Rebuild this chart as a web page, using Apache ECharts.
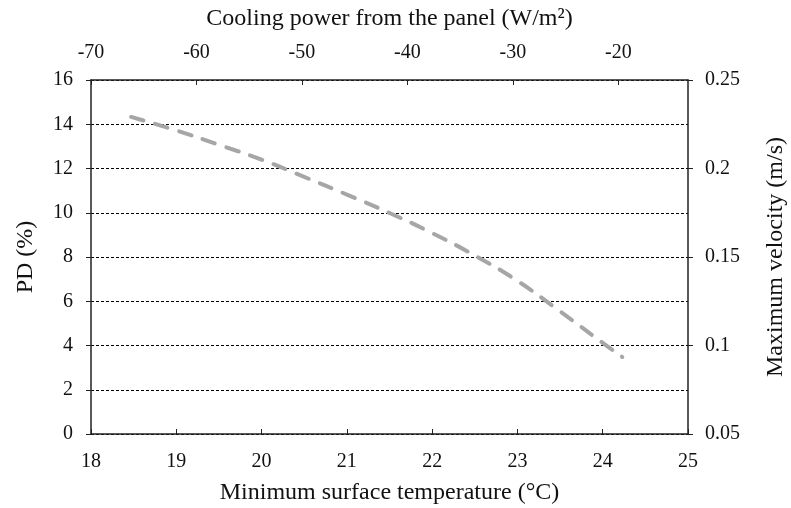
<!DOCTYPE html>
<html>
<head>
<meta charset="utf-8">
<script src="https://cdn.jsdelivr.net/npm/echarts@6/dist/echarts.min.js"></script>
<style>html,body{margin:0;padding:0;background:#fff;}#c{width:791px;height:508px;}</style>
</head>
<body>
<div id="c"></div>
<script>
// Data
var temperature = [18.47, 19.0, 19.5, 20.0, 20.5, 21.0, 21.5, 22.0, 22.5, 23.0, 23.5, 24.0, 24.23];
var pdValues = [14.33, 13.72, 13.07, 12.40, 11.62, 10.82, 9.99, 9.08, 8.07, 6.92, 5.54, 4.12, 3.48];
var xTitle = 'Minimum surface temperature (°C)';
var x2Title = 'Cooling power from the panel (W/m²)';
var yTitle = 'PD (%)';
var y2Title = 'Maximum velocity (m/s)';

var FONT = '"Liberation Serif", "Times New Roman", serif';
var chart = echarts.init(document.getElementById('c'), null, {renderer: 'canvas'});
var axisLineStyle = {color: '#222', width: 1.5};
var lbl = {color: '#111', fontFamily: FONT, fontSize: 20};
var nm = {color: '#111', fontFamily: FONT, fontSize: 24};

chart.setOption({
  animation: false,
  grid: {left: 91, right: 103, top: 80, bottom: 74, containLabel: false, outerBoundsMode: 'none'},
  xAxis: [{
    type: 'value', position: 'bottom', min: 18, max: 25, interval: 1,
    name: xTitle, nameLocation: 'middle', nameGap: 47, nameTextStyle: nm,
    axisLine: {show: true, onZero: false, lineStyle: axisLineStyle},
    axisTick: {show: true, inside: true, length: 5, lineStyle: {color: '#222'}},
    axisLabel: Object.assign({margin: 18}, lbl),
    splitLine: {show: false}
  }, {
    type: 'value', position: 'top', min: -70, max: -13.4, interval: 10,
    name: x2Title, nameLocation: 'middle', nameGap: 49, nameTextStyle: nm,
    axisLine: {show: true, onZero: false, lineStyle: axisLineStyle},
    axisTick: {show: true, inside: true, length: 5, lineStyle: {color: '#222'}},
    axisLabel: Object.assign({margin: 17, showMaxLabel: false}, lbl),
    splitLine: {show: false}
  }],
  yAxis: [{
    type: 'value', position: 'left', min: 0, max: 16, interval: 2,
    name: yTitle, nameLocation: 'middle', nameGap: 53, nameTextStyle: nm,
    axisLine: {show: true, onZero: false, lineStyle: axisLineStyle},
    axisTick: {show: true, inside: false, length: 5, lineStyle: {color: '#222'}},
    axisLabel: Object.assign({margin: 18}, lbl),
    splitLine: {show: true, lineStyle: {color: '#000', width: 1, type: [3, 2]}}
  }, {
    type: 'value', position: 'right', min: 0.05, max: 0.25, interval: 0.05,
    name: y2Title, nameLocation: 'middle', nameGap: 76, nameTextStyle: nm,
    axisLine: {show: true, onZero: false, lineStyle: axisLineStyle},
    axisTick: {show: true, inside: false, length: 5, lineStyle: {color: '#222'}},
    axisLabel: Object.assign({margin: 17}, lbl),
    splitLine: {show: false}
  }],
  series: [{
    type: 'line', xAxisIndex: 0, yAxisIndex: 0,
    data: temperature.map(function (t, i) { return [t, pdValues[i]]; }),
    smooth: true, showSymbol: false,
    lineStyle: {color: '#a6a6a6', width: 4, type: [13, 12], cap: 'round'}
  }]
});
</script>
</body>
</html>
